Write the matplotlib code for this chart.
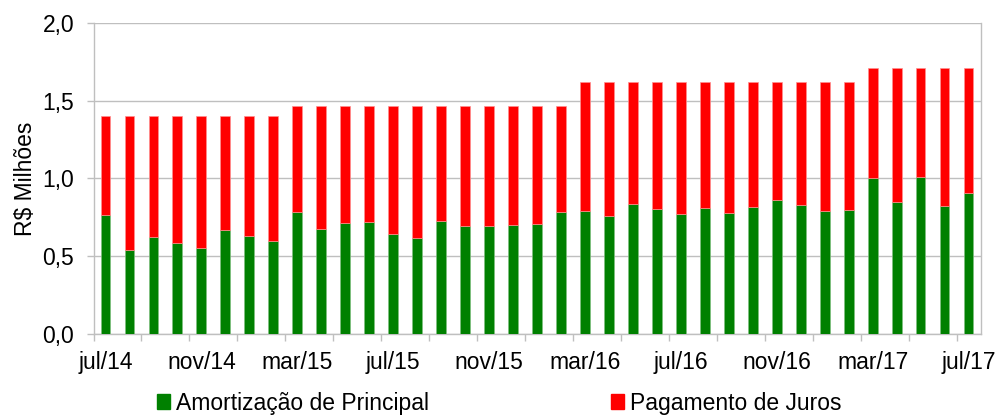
import numpy as np
import matplotlib.pyplot as plt
from matplotlib.patches import Patch

meses = ['jul/14', 'ago/14', 'set/14', 'out/14', 'nov/14', 'dez/14', 'jan/15', 'fev/15',
         'mar/15', 'abr/15', 'mai/15', 'jun/15', 'jul/15', 'ago/15', 'set/15', 'out/15',
         'nov/15', 'dez/15', 'jan/16', 'fev/16', 'mar/16', 'abr/16', 'mai/16', 'jun/16',
         'jul/16', 'ago/16', 'set/16', 'out/16', 'nov/16', 'dez/16', 'jan/17', 'fev/17',
         'mar/17', 'abr/17', 'mai/17', 'jun/17', 'jul/17']

amortizacao = [0.763, 0.542, 0.622, 0.587, 0.553, 0.667, 0.632, 0.600,
               0.783, 0.673, 0.714, 0.718, 0.645, 0.615, 0.729, 0.692,
               0.697, 0.703, 0.705, 0.783, 0.789, 0.757, 0.836, 0.802,
               0.770, 0.810, 0.776, 0.819, 0.860, 0.828, 0.793, 0.795,
               1.001, 0.849, 1.010, 0.821, 0.905]

juros = [0.637, 0.858, 0.778, 0.813, 0.847, 0.733, 0.768, 0.800,
         0.682, 0.792, 0.751, 0.747, 0.820, 0.850, 0.736, 0.773,
         0.768, 0.762, 0.760, 0.682, 0.831, 0.863, 0.784, 0.818,
         0.850, 0.810, 0.844, 0.801, 0.760, 0.792, 0.827, 0.825,
         0.709, 0.861, 0.700, 0.889, 0.805]

y_ticks = [0.0, 0.5, 1.0, 1.5, 2.0]
y_labels = ['0,0', '0,5', '1,0', '1,5', '2,0']

plt.rcParams['font.family'] = ['Liberation Sans', 'DejaVu Sans']

verde = '#008000'
vermelho = '#FF0000'
cinza = '#BFBFBF'
fs = 16.5

fig = plt.figure(figsize=(9.98, 4.15), dpi=100)
ax = fig.add_axes([93.5 / 998, 1 - 334 / 415, 887 / 998, 311.3 / 415])

x = np.arange(len(meses))
ax.bar(x, amortizacao, width=0.41, color=verde, edgecolor='#7FBF7F', linewidth=0.5, zorder=3)
ax.bar(x, juros, width=0.41, bottom=amortizacao, color=vermelho, edgecolor='#FF9090',
       linewidth=0.5, zorder=3)

ax.set_xlim(-0.5, len(meses) - 0.5)
ax.set_ylim(0, 2.0)

# rotulos a cada 4 meses, marcas a cada 2
ax.set_xticks(x[::4])
ax.set_xticklabels([meses[i] for i in x[::4]], fontsize=fs)
ax.set_xticks(np.arange(-0.5, len(meses), 2), minor=True)
ax.tick_params(axis='x', which='major', length=0, pad=12)
ax.tick_params(axis='x', which='minor', length=4.8, color=cinza, width=1)

ax.set_yticks(y_ticks)
ax.set_yticklabels(y_labels, fontsize=fs)
ax.tick_params(axis='y', length=4.8, color=cinza, width=1, pad=9)
ax.yaxis.grid(True, color=cinza, linewidth=1, zorder=0)
ax.set_axisbelow(True)

for s in ax.spines.values():
    s.set_color(cinza)
    s.set_linewidth(1)
ax.spines['top'].set_visible(False)

ax.set_ylabel('R$ Milhões', fontsize=fs, labelpad=4)

handles = [Patch(color=verde, label='Amortização de Principal'),
           Patch(color=vermelho, label='Pagamento de Juros')]
fig.legend(handles=handles, loc='center', bbox_to_anchor=(0.500, 1 - 403 / 415), ncol=2,
           frameon=False, fontsize=fs, handlelength=0.58, handleheight=0.58,
           handletextpad=0.25, columnspacing=7.95, borderaxespad=0, borderpad=0)

fig.savefig('out.png', dpi=100)
